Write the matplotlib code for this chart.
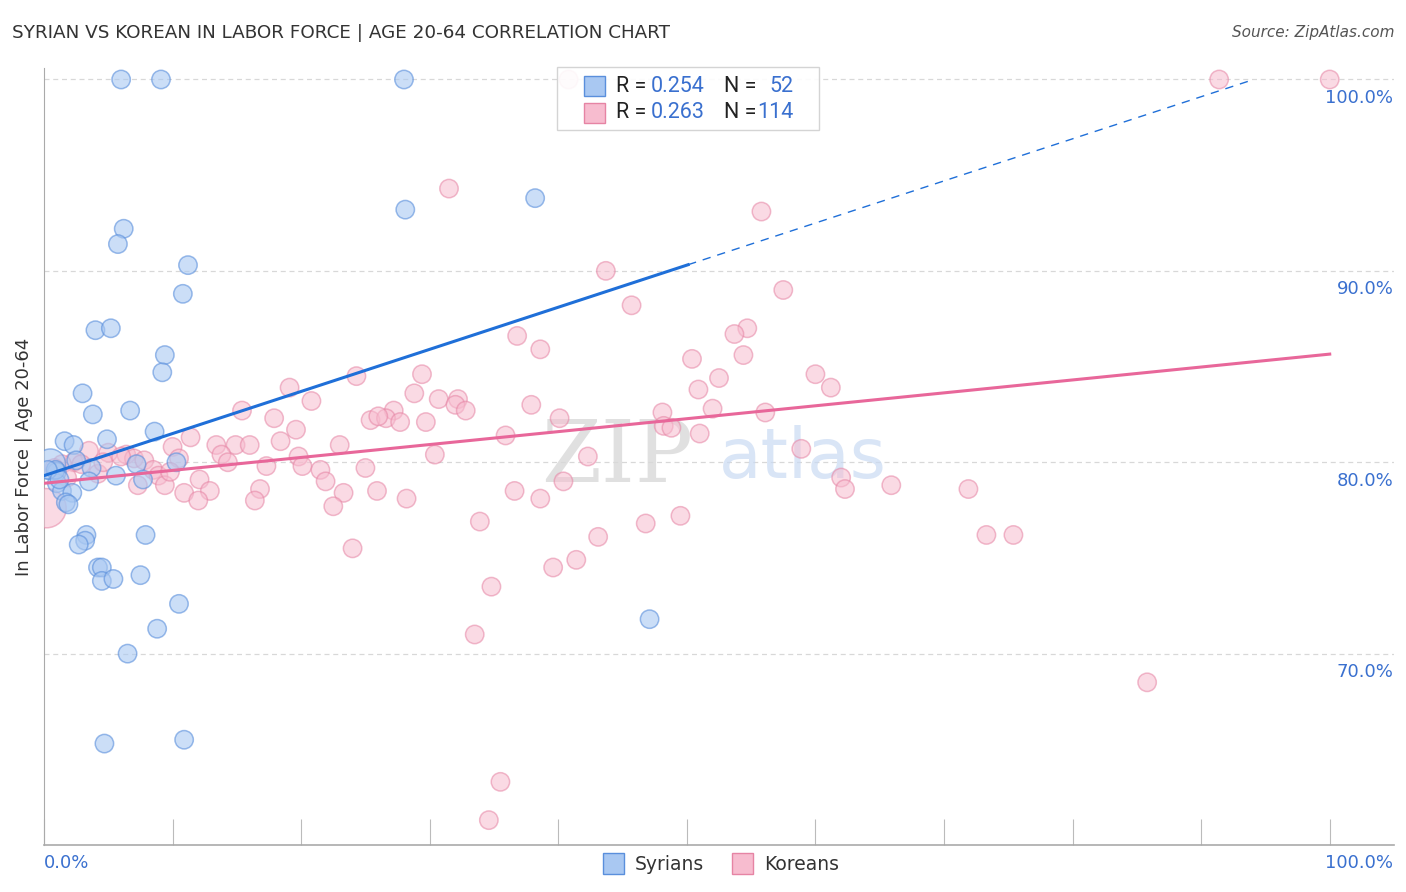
import numpy as np
import matplotlib
matplotlib.use("Agg")
import matplotlib.pyplot as plt
from matplotlib.patches import Rectangle
import matplotlib.transforms as mtransforms

# Syrians: x = share (%), y = in labor force age 20-64 (%)
syr_x = [6.0, 9.1, 28.0, 28.1, 38.2, 6.2, 5.75, 11.2, 10.8, 4.0, 5.2, 9.4, 9.2,
         3.0, 3.8, 6.7, 8.6, 1.6, 2.3, 4.9, 2.5, 0.5, 1.0, 3.7, 7.2, 10.3, 5.6,
         7.7, 3.5, 1.0, 1.4, 2.2, 1.7, 1.9, 3.3, 3.2, 2.7, 7.9, 4.2, 4.5, 4.5,
         5.4, 7.5, 10.5, 8.8, 6.5, 4.7, 10.9, 47.1, 0.9, 0.3, 1.2]
syr_y = [100.0, 100.0, 100.0, 93.2, 93.8, 92.2, 91.4, 90.3, 88.8, 86.9, 87.0, 85.6,
         84.7, 83.6, 82.5, 82.7, 81.6, 81.1, 80.9, 81.2, 80.1, 79.9, 79.5, 79.7,
         79.9, 80.0, 79.3, 79.1, 79.0, 78.9, 78.5, 78.4, 77.9, 77.8, 76.2, 75.9,
         75.7, 76.2, 74.5, 74.5, 73.8, 73.9, 74.1, 72.6, 71.3, 70.0, 65.3, 65.5,
         71.8, 79.6, 79.6, 79.1]
syr_big = [21]

# Koreans
kor_x = [40.8, 91.4, 100.0, 31.5, 55.8, 43.7, 57.5, 45.7, 54.7, 53.7, 36.8, 38.6,
         54.4, 50.4, 60.0, 24.3, 29.4, 52.5, 61.2, 19.1, 50.9, 28.8, 20.8, 30.7,
         32.2, 32.0, 32.8, 37.9, 52.0, 15.4, 17.9, 27.2, 25.4, 26.6, 27.7, 29.7,
         40.1, 48.1, 56.1, 48.2, 48.8, 51.0, 19.6, 35.9, 11.4, 18.4, 23.0, 13.4,
         14.9, 16.0, 10.0, 58.9, 3.5, 5.0, 6.4, 13.8, 7.0, 10.5, 7.8, 19.8, 30.4,
         42.3, 2.3, 1.4, 14.3, 20.1, 17.3, 8.5, 21.5, 25.0, 4.2, 8.9, 12.1, 21.9,
         62.0, 40.4, 9.4, 7.3, 65.9, 16.8, 62.3, 71.9, 12.9, 10.9, 25.9, 23.3,
         36.6, 16.4, 12.0, 28.2, 38.6, 22.5, 0.2, 49.5, 33.9, 46.8, 43.1, 73.3,
         75.4, 24.0, 41.4, 39.6, 34.8, 33.5, 85.8, 35.5, 34.6, 2.9, 0.8, 4.6,
         26.0, 9.8, 6.0, 1.8]
kor_y = [100.0, 100.0, 100.0, 94.3, 93.1, 90.0, 89.0, 88.2, 87.0, 86.7, 86.6, 85.9,
         85.6, 85.4, 84.6, 84.5, 84.6, 84.4, 83.9, 83.9, 83.8, 83.6, 83.2, 83.3,
         83.3, 83.0, 82.7, 83.0, 82.8, 82.7, 82.3, 82.7, 82.2, 82.3, 82.1, 82.1,
         82.3, 82.6, 82.6, 81.9, 81.8, 81.5, 81.7, 81.4, 81.3, 81.1, 80.9, 80.9,
         80.9, 80.9, 80.8, 80.7, 80.6, 80.5, 80.4, 80.4, 80.2, 80.2, 80.1, 80.3,
         80.4, 80.3, 80.0, 79.9, 80.0, 79.8, 79.8, 79.6, 79.6, 79.7, 79.4, 79.3,
         79.1, 79.0, 79.2, 79.0, 78.8, 78.8, 78.8, 78.6, 78.6, 78.6, 78.5, 78.4,
         78.5, 78.4, 78.5, 78.0, 78.0, 78.1, 78.1, 77.7, 77.6, 77.2, 76.9, 76.8,
         76.1, 76.2, 76.2, 75.5, 74.9, 74.5, 73.5, 71.0, 68.5, 63.3, 61.3, 79.9,
         79.7, 80.0, 82.4, 79.5, 80.3, 79.2]
kor_big = [92]

# trend lines (intercept, slope) and where the solid part ends
syr_trend = (79.3, 0.22)
syr_solid_end = 50.1
kor_trend = (78.9, 0.0675)

syr_r, syr_n = "0.254", "52"
kor_r, kor_n = "0.263", "114"

blue_face = "#a9c8f2"
blue_edge = "#5a8fdc"
blue_line = "#1f6fd8"
pink_face = "#f7bccf"
pink_edge = "#e684a4"
pink_line = "#e8679a"
val_color = "#3a70cf"

W, H = 1406, 892
fig = plt.figure(figsize=(W / 100, H / 100), dpi=100)
plt.rcParams['font.family'] = ['DejaVu Sans']

ax = fig.add_axes([44 / W, 1 - 845 / H, (1394 - 44) / W, (845 - 68) / H])
ax.set_xlim(0, 105)
ax.set_ylim(60, 100.6)

# grid
for gy in [70, 80, 90, 100]:
    ax.axhline(gy, color="#d8d8d8", lw=0.9, ls=(0, (4, 3)), zorder=0)

# watermark
ax.text(50.5, 80.2, "ZIP", fontsize=62, family="DejaVu Serif", color="#d9d9d9",
        ha="right", va="center", alpha=0.8, zorder=1)
ax.text(52.5, 80.2, "atlas", fontsize=50, color="#c9daf3", ha="left", va="center",
        alpha=0.7, zorder=1)

s_norm = 175
syr_s = np.full(len(syr_x), s_norm, dtype=float)
syr_s[syr_big] = 480
kor_s = np.full(len(kor_x), s_norm, dtype=float)
kor_s[kor_big] = 800

ax.scatter(kor_x, kor_y, s=kor_s, facecolor=pink_face, edgecolor=pink_edge,
           alpha=0.55, lw=1.1, zorder=3)
ax.scatter(syr_x, syr_y, s=syr_s, facecolor=blue_face, edgecolor=blue_edge,
           alpha=0.6, lw=1.1, zorder=4)

# trend lines
xs = np.array([0, syr_solid_end])
ax.plot(xs, syr_trend[0] + syr_trend[1] * xs, color=blue_line, lw=2.2, zorder=5)
xd = np.linspace(syr_solid_end, (100 - syr_trend[0]) / syr_trend[1], 2)
ax.plot(xd, syr_trend[0] + syr_trend[1] * xd, color=blue_line, lw=1, ls=(0, (6, 5)), zorder=5)
xk = np.array([0, 100])
ax.plot(xk, kor_trend[0] + kor_trend[1] * xk, color=pink_line, lw=2.2, zorder=5)

# axes styling
for side in ["top", "right"]:
    ax.spines[side].set_visible(False)
ax.spines["left"].set_color("#aaaaaa")
ax.spines["bottom"].set_color("#aaaaaa")
ax.spines["bottom"].set_linewidth(1.2)
ax.set_yticks([])
ax.set_xticks(np.arange(0, 101, 10))
ax.tick_params(axis="x", direction="in", length=19, color="#bbbbbb", labelbottom=False)

# right-side y labels
trans = mtransforms.blended_transform_factory(ax.transAxes, ax.transData)
for gy in [70, 80, 90, 100]:
    ax.text(0.9995, gy - 0.5, f"{gy:.1f}%", transform=trans, ha="right", va="top",
            fontsize=13, color=val_color)

fig.text(44 / W, 1 - 863 / H, "0.0%", ha="left", va="center", fontsize=13, color=val_color)
fig.text(1393 / W, 1 - 863 / H, "100.0%", ha="right", va="center", fontsize=13, color=val_color)

ax.set_ylabel("In Labor Force | Age 20-64", fontsize=13, color="#333333", labelpad=8)

fig.text(12 / W, 1 - 33 / H, "SYRIAN VS KOREAN IN LABOR FORCE | AGE 20-64 CORRELATION CHART",
         ha="left", va="center", fontsize=13.2, color="#333333")
fig.text(1394 / W, 1 - 33 / H, "Source: ZipAtlas.com", ha="right", va="center",
         fontsize=11, color="#555555", style="italic")

# top legend box
fig.patches.append(Rectangle((557 / W, 1 - 130 / H), (819 - 557) / W, (130 - 67) / H,
                             transform=fig.transFigure, facecolor="white",
                             edgecolor="#d0d0d0", lw=1, alpha=0.9, zorder=6))
leg_font = dict(fontsize=15.5, family="Roboto", va="center", zorder=8)
rows = [(86, blue_face, blue_edge, syr_r, syr_n), (113, pink_face, pink_edge, kor_r, kor_n)]
for py, fc, ec, r, n in rows:
    fig.patches.append(Rectangle((584 / W, 1 - (py + 10) / H), 21 / W, 20 / H,
                                 transform=fig.transFigure, facecolor=fc,
                                 edgecolor=ec, lw=1, zorder=7))
    fig.text(616 / W, 1 - py / H, "R =", ha="left", color="#222222", **leg_font)
    fig.text(651 / W, 1 - py / H, r, ha="left", color=val_color, **leg_font)
    fig.text(724 / W, 1 - py / H, "N =", ha="left", color="#222222", **leg_font)
    fig.text(793 / W, 1 - py / H, n, ha="right", color=val_color, **leg_font)

# bottom legend
for px, fc, ec, lab in [(603, blue_face, blue_edge, "Syrians"), (732, pink_face, pink_edge, "Koreans")]:
    fig.patches.append(Rectangle((px / W, 1 - 874 / H), 21 / W, 21 / H,
                                 transform=fig.transFigure, facecolor=fc,
                                 edgecolor=ec, lw=1))
    fig.text((px + 32) / W, 1 - 864 / H, lab, ha="left", va="center", fontsize=13.5,
             color="#333333")

fig.savefig("out.png", dpi=100)
